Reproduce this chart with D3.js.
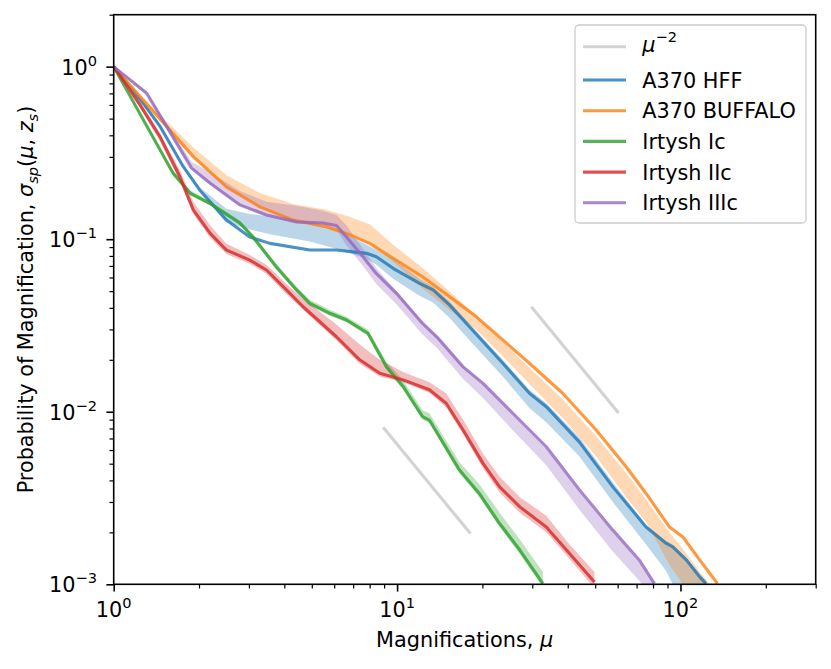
<!DOCTYPE html>
<html lang="en">
<head>
  <meta charset="UTF-8">
  <title></title>
  <style>
    html, body {
      margin: 0;
      overflow: hidden;
      background: #fff;
    }
    svg {
      display: block;
      font-family: 'DejaVu Sans', sans-serif;
    }
    .tick line {
      stroke: #000;
    }
  </style>
</head>
<body>
  <svg width="831" height="669"></svg>
</body>
<script src="https://d3js.org/d3.v7.min.js"></script>
<script type="text/javascript">
  // A370 HFF
  const hffMu = [1, 1.27, 1.46, 1.76, 2.01, 2.5, 3.02, 3.56, 4.92, 6.11, 7.8, 8.45, 9.68, 12.0, 13.4, 15.3, 18.0, 23.6, 29.3, 33.6, 44.0, 57.7, 75.6, 88.9, 93.9, 105, 117, 123]
  const hffVal = [1, 0.614, 0.449, 0.263, 0.193, 0.129, 0.103, 0.0946, 0.0865, 0.0865, 0.0828, 0.0792, 0.0678, 0.0555, 0.0508, 0.0416, 0.0311, 0.0191, 0.0128, 0.0107, 0.00667, 0.00367, 0.00215, 0.00173, 0.00165, 0.00138, 0.0011, 0.00101]
  const hffLo = [1, 0.60, 0.44, 0.26, 0.19, 0.125, 0.114, 0.107, 0.097, 0.088, 0.077, 0.071, 0.059, 0.047, 0.043, 0.035, 0.026, 0.016, 0.0105, 0.0087, 0.0055, 0.0030, 0.0017, 0.0012, 0.001, 0.0008, 0.0007, 0.00065]
  const hffHi = [1, 0.63, 0.46, 0.27, 0.20, 0.15, 0.14, 0.136, 0.124, 0.113, 0.093, 0.087, 0.077, 0.059, 0.053, 0.0435, 0.0325, 0.020, 0.0134, 0.0112, 0.0071, 0.0039, 0.0022, 0.00178, 0.0017, 0.00142, 0.00115, 0.00105]

  // A370 BUFFALO
  const bufMu = [1, 1.27, 1.54, 1.91, 2.5, 3.28, 4.3, 5.63, 6.8, 8.0, 9.68, 12.3, 15.3, 19.0, 23.6, 29.3, 38.4, 50.4, 64.3, 75.6, 91.4, 102, 117, 135]
  const bufVal = [1, 0.641, 0.449, 0.301, 0.201, 0.154, 0.129, 0.118, 0.106, 0.0946, 0.0775, 0.0606, 0.0465, 0.0356, 0.0261, 0.0191, 0.0128, 0.00784, 0.0048, 0.00336, 0.00215, 0.00188, 0.00138, 0.00101]
  const bufLo = [1, 0.63, 0.44, 0.295, 0.198, 0.152, 0.127, 0.116, 0.105, 0.094, 0.074, 0.052, 0.039, 0.030, 0.021, 0.0145, 0.0092, 0.0055, 0.0032, 0.0023, 0.0013, 0.001, 0.0008, 0.0006]
  const bufHi = [1, 0.66, 0.48, 0.34, 0.235, 0.185, 0.16, 0.148, 0.135, 0.122, 0.093, 0.068, 0.05, 0.036, 0.0255, 0.018, 0.0118, 0.0072, 0.0044, 0.0031, 0.002, 0.0016, 0.00118, 0.00088]

  // Irtysh Ic
  const icMu = [1, 1.62, 1.86, 2.19, 2.79, 3.10, 3.75, 4.42, 4.92, 5.79, 6.63, 7.89, 9.17, 10.5, 12.3, 13.0, 16.6, 19.5, 23.0, 27.1, 32.7]
  const icVal = [1, 0.241, 0.185, 0.161, 0.124, 0.103, 0.069, 0.0508, 0.0425, 0.0372, 0.034, 0.0285, 0.0182, 0.014, 0.00936, 0.00895, 0.00459, 0.00336, 0.00225, 0.00158, 0.00101]
  const icLo = [1, 0.235, 0.18, 0.157, 0.12, 0.1, 0.067, 0.049, 0.041, 0.036, 0.033, 0.0275, 0.0175, 0.0135, 0.009, 0.0086, 0.0044, 0.0032, 0.00215, 0.0015, 0.00096]
  const icHi = [1, 0.25, 0.192, 0.166, 0.128, 0.107, 0.072, 0.053, 0.0445, 0.039, 0.0355, 0.03, 0.0195, 0.0152, 0.0102, 0.0098, 0.0051, 0.0038, 0.0026, 0.00182, 0.00118]

  // Irtysh IIc
  const iicMu = [1, 1.238, 1.456, 1.713, 1.909, 2.19, 2.50, 3.02, 3.46, 4.07, 4.66, 6.11, 7.38, 8.68, 10.5, 13.0, 14.9, 17.1, 20.1, 23.0, 27.1, 33.6, 40.6, 49.7]
  const iicVal = [1, 0.6, 0.393, 0.230, 0.148, 0.108, 0.0865, 0.0757, 0.0663, 0.0508, 0.0406, 0.0272, 0.020, 0.0167, 0.0153, 0.0134, 0.0112, 0.00784, 0.00502, 0.00367, 0.00281, 0.00215, 0.00151, 0.00103]
  const iicLo = [1, 0.58, 0.37, 0.215, 0.14, 0.102, 0.082, 0.072, 0.063, 0.048, 0.039, 0.026, 0.019, 0.016, 0.0148, 0.0129, 0.0106, 0.0074, 0.0047, 0.0034, 0.0026, 0.002, 0.0014, 0.00095]
  const iicHi = [1, 0.63, 0.41, 0.25, 0.165, 0.12, 0.094, 0.081, 0.071, 0.055, 0.045, 0.032, 0.0245, 0.02, 0.017, 0.0148, 0.0128, 0.009, 0.0057, 0.0042, 0.0032, 0.0025, 0.0017, 0.00118]

  // Irtysh IIIc
  const iiicMu = [1, 1.307, 1.538, 1.883, 2.19, 2.79, 3.46, 4.42, 5.48, 6.11, 6.63, 7.58, 8.44, 9.95, 12.3, 13.8, 17.1, 20.1, 25.6, 33.6, 44.0, 57.7, 71.6, 80.9]
  const iiicVal = [1, 0.701, 0.449, 0.258, 0.211, 0.158, 0.138, 0.126, 0.124, 0.12, 0.103, 0.0792, 0.0633, 0.0486, 0.0325, 0.0272, 0.0182, 0.0146, 0.0098, 0.00627, 0.00352, 0.00206, 0.00138, 0.00101]
  const iiicLo = [1, 0.69, 0.44, 0.255, 0.208, 0.156, 0.136, 0.124, 0.12, 0.114, 0.092, 0.07, 0.055, 0.042, 0.028, 0.0235, 0.0155, 0.012, 0.0078, 0.0049, 0.0027, 0.00155, 0.00105, 0.00078]
  const iiicHi = [1, 0.72, 0.47, 0.28, 0.245, 0.19, 0.165, 0.156, 0.146, 0.138, 0.12, 0.088, 0.068, 0.05, 0.033, 0.0275, 0.0182, 0.0145, 0.0096, 0.0061, 0.0034, 0.002, 0.00134, 0.001]

  // mu^-2 guide segments
  const refMuA = [9, 18]
  const refValA = [0.008, 0.002]
  const refMuB = [30, 60]
  const refValB = [0.04, 0.01]

  const names = ['A370 HFF', 'A370 BUFFALO', 'Irtysh Ic', 'Irtysh IIc', 'Irtysh IIIc']
  const colors = ['#1f77b4', '#ff7f0e', '#2ca02c', '#d62728', '#9467bd']
  const xMajor = [1, 10, 100]
  const yMajor = [1e-3, 1e-2, 1e-1, 1]

  const zip = (mu, val, lo, hi) => mu.map((m, i) => ({ mu: m, val: val[i], lo: lo ? lo[i] : 0, hi: hi ? hi[i] : 0 }))
  const series = [
    zip(hffMu, hffVal, hffLo, hffHi),
    zip(bufMu, bufVal, bufLo, bufHi),
    zip(icMu, icVal, icLo, icHi),
    zip(iicMu, iicVal, iicLo, iicHi),
    zip(iiicMu, iiicVal, iiicLo, iiicHi)
  ].map((pts, i) => ({ name: names[i], color: colors[i], pts }))
  const refs = [zip(refMuA, refValA), zip(refMuB, refValB)]

  const svg = d3.select('svg')
  const m = { l: 113.7, r: 815.7, t: 14.7, b: 584.3 }
  const fs = 20.8

  const x = d3.scaleLog().domain([1, 300]).range([m.l, m.r])
  const y = d3.scaleLog().domain([1e-3, 2]).range([m.b, m.t])

  svg.append('clipPath').attr('id', 'plot')
    .append('rect')
    .attr('x', m.l).attr('y', m.t)
    .attr('width', m.r - m.l).attr('height', m.b - m.t)

  const plot = svg.append('g').attr('clip-path', 'url(#plot)')

  const area = d3.area()
    .x(d => x(d.mu))
    .y0(d => y(d.lo))
    .y1(d => y(d.hi))

  const line = d3.line()
    .x(d => x(d.mu))
    .y(d => y(d.val))

  plot.selectAll('path.band')
    .data(series)
    .enter()
    .append('path')
    .attr('class', 'band')
    .attr('d', s => area(s.pts))
    .attr('fill', s => s.color)
    .attr('fill-opacity', 0.3)

  plot.selectAll('path.ref')
    .data(refs)
    .enter()
    .append('path')
    .attr('class', 'ref')
    .attr('d', line)
    .attr('fill', 'none')
    .attr('stroke', 'lightgray')
    .attr('stroke-width', 3.1)
    .attr('stroke-linecap', 'square')

  plot.selectAll('path.curve')
    .data(series)
    .enter()
    .append('path')
    .attr('class', 'curve')
    .attr('d', s => line(s.pts))
    .attr('fill', 'none')
    .attr('stroke', s => s.color)
    .attr('stroke-opacity', 0.8)
    .attr('stroke-width', 3.1)
    .attr('stroke-linejoin', 'round')

  const isMajor = v => Math.abs(Math.log10(v) - Math.round(Math.log10(v))) < 1e-9

  // axes: major + minor ticks, labels drawn by hand for the superscripts
  const gx = svg.append('g').attr('transform', `translate(0,${m.b})`)
  gx.call(d3.axisBottom(x).tickValues(xMajor).tickSize(7.3).tickFormat(''))
  gx.call(g => g.select('.domain').remove())
  gx.selectAll('.tick line').attr('stroke-width', 1.6)
  const gxm = svg.append('g').attr('transform', `translate(0,${m.b})`)
  gxm.call(d3.axisBottom(x).tickValues(x.ticks().filter(v => !isMajor(v))).tickSize(4.2).tickFormat(''))
  gxm.call(g => g.select('.domain').remove())
  gxm.selectAll('.tick line').attr('stroke-width', 1.2)

  const gy = svg.append('g').attr('transform', `translate(${m.l},0)`)
  gy.call(d3.axisLeft(y).tickValues(yMajor).tickSize(7.3).tickFormat(''))
  gy.call(g => g.select('.domain').remove())
  gy.selectAll('.tick line').attr('stroke-width', 1.6)
  const gym = svg.append('g').attr('transform', `translate(${m.l},0)`)
  gym.call(d3.axisLeft(y).tickValues(y.ticks().filter(v => !isMajor(v))).tickSize(4.2).tickFormat(''))
  gym.call(g => g.select('.domain').remove())
  gym.selectAll('.tick line').attr('stroke-width', 1.2)

  const powLabel = (t, v) => {
    const k = Math.round(Math.log10(v))
    t.append('tspan').text('10')
    t.append('tspan')
      .attr('dy', -9)
      .attr('font-size', 14.6)
      .text(k < 0 ? '\u2212' + (-k) : String(k))
  }

  xMajor.forEach(v => {
    const t = svg.append('text')
      .attr('x', x(v))
      .attr('y', 616.7)
      .attr('text-anchor', 'middle')
      .attr('font-size', fs)
    powLabel(t, v)
  })

  yMajor.forEach(v => {
    const t = svg.append('text')
      .attr('x', 97)
      .attr('y', y(v) + 7.9)
      .attr('text-anchor', 'end')
      .attr('font-size', fs)
    powLabel(t, v)
  })

  svg.append('rect')
    .attr('x', m.l).attr('y', m.t)
    .attr('width', m.r - m.l).attr('height', m.b - m.t)
    .attr('fill', 'none')
    .attr('stroke', '#000')
    .attr('stroke-width', 1.6)

  // axis titles
  const xt = svg.append('text')
    .attr('x', (m.l + m.r) / 2)
    .attr('y', 647)
    .attr('text-anchor', 'middle')
    .attr('font-size', fs)
  xt.append('tspan').text('Magnifications, ')
  xt.append('tspan').attr('font-style', 'italic').text('\u03bc')

  const yt = svg.append('text')
    .attr('transform', `translate(33,${(m.t + m.b) / 2}) rotate(-90)`)
    .attr('text-anchor', 'middle')
    .attr('font-size', fs)
  yt.append('tspan').text('Probability of Magnification, ')
  yt.append('tspan').attr('font-style', 'italic').text('\u03c3')
  yt.append('tspan').attr('font-style', 'italic').attr('font-size', 14.6).attr('dy', 4.5).text('sp')
  yt.append('tspan').attr('dy', -4.5).text('(')
  yt.append('tspan').attr('font-style', 'italic').text('\u03bc')
  yt.append('tspan').text(', ')
  yt.append('tspan').attr('font-style', 'italic').text('z')
  yt.append('tspan').attr('font-style', 'italic').attr('font-size', 14.6).attr('dy', 4.5).text('s')
  yt.append('tspan').attr('dy', -4.5).text(')')

  // legend
  const lg = svg.append('g')
  lg.append('rect')
    .attr('x', 575).attr('y', 25)
    .attr('width', 231).attr('height', 198)
    .attr('rx', 4)
    .attr('fill', '#fff').attr('fill-opacity', 0.8)
    .attr('stroke', '#cccccc').attr('stroke-width', 1.3)

  const rowY = i => i === 0 ? 46.7 : 80 + (i - 1) * 30.7
  const entries = [{ name: null, color: 'lightgray', op: 1 }]
    .concat(series.map(s => ({ name: s.name, color: s.color, op: 0.8 })))

  entries.forEach((e, i) => {
    lg.append('line')
      .attr('x1', 583).attr('x2', 626)
      .attr('y1', rowY(i)).attr('y2', rowY(i))
      .attr('stroke', e.color)
      .attr('stroke-opacity', e.op)
      .attr('stroke-width', 3.1)
    const t = lg.append('text')
      .attr('x', 642.3)
      .attr('y', rowY(i) + 7.6)
      .attr('font-size', fs)
    if (e.name === null) {
      t.attr('y', rowY(i) + 5)
      t.append('tspan').attr('font-style', 'italic').text('\u03bc')
      t.append('tspan').attr('dy', -10).attr('font-size', 14.6).text('\u22122')
    } else {
      t.text(e.name)
    }
  })
</script>
</html>
